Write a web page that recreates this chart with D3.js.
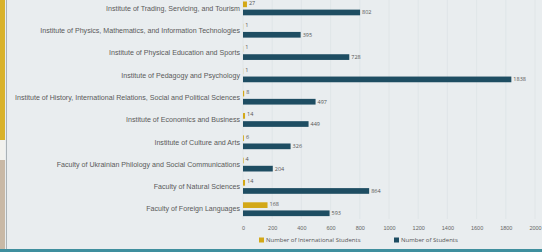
<!DOCTYPE html>
<html>
<head>
<meta charset="utf-8">
<script src="https://cdn.jsdelivr.net/npm/d3@7"></script>
<style>
  body { margin: 0; background: #e9edef; }
  svg { display: block; font-family: "Open Sans", sans-serif; }
</style>
</head>
<body>
<div id="chart"></div>
<script>
// data
var faculties = [
  "Institute of Trading, Servicing, and Tourism",
  "Institute of Physics, Mathematics, and Information Technologies",
  "Institute of Physical Education and Sports",
  "Institute of Pedagogy and Psychology",
  "Institute of History, International Relations, Social and Political Sciences",
  "Institute of Economics and Business",
  "Institute of Culture and Arts",
  "Faculty of Ukrainian Philology and Social Communications",
  "Faculty of Natural Sciences",
  "Faculty of Foreign Languages"
];
var international = [27, 1, 1, 1, 8, 14, 6, 4, 14, 168];
var students = [802, 395, 728, 1838, 497, 449, 326, 204, 864, 593];
var xTicks = [0, 200, 400, 600, 800, 1000, 1200, 1400, 1600, 1800, 2000];
var seriesNames = ["Number of International Students", "Number of Students"];
var colors = ["#d3a817", "#1e4d62"];

var width = 542, height = 252;
var margin = {top: 1, right: 5, bottom: 36, left: 243};

var svg = d3.select("#chart").append("svg")
    .attr("width", width)
    .attr("height", height);

// slide photo edges
svg.append("rect").attr("x", 0).attr("y", 0).attr("width", 5).attr("height", 140).attr("fill", "#d9b22a");
svg.append("rect").attr("x", 0).attr("y", 140).attr("width", 5).attr("height", 20).attr("fill", "#f2f2ee");
svg.append("rect").attr("x", 0).attr("y", 160).attr("width", 5).attr("height", 92).attr("fill", "#c9b9a6");
svg.append("rect").attr("x", 6).attr("y", 0).attr("width", 1).attr("height", 252).attr("fill", "#aab2b6");
svg.append("rect").attr("x", 0).attr("y", 249).attr("width", width).attr("height", 3).attr("fill", "#3f8f9e");

var x = d3.scaleLinear()
    .domain([0, 2000])
    .range([margin.left, margin.left + 292]);

var y = d3.scaleBand()
    .domain(faculties)
    .range([-1.2, 218.8])
    .paddingInner(0.38)
    .paddingOuter(0.12);

var ySub = d3.scaleBand()
    .domain([0, 1])
    .range([0, y.bandwidth()])
    .paddingInner(0.3);

// grid
svg.append("g").selectAll("line")
    .data(xTicks)
    .enter().append("line")
    .attr("x1", d => x(d)).attr("x2", d => x(d))
    .attr("y1", 0).attr("y2", 219)
    .attr("stroke", "#dde3e6")
    .attr("stroke-width", 0.8);

// x axis labels
var xAxis = d3.axisBottom(x).tickValues(xTicks).tickSize(0).tickPadding(0).tickFormat(d3.format("d"));
var gx = svg.append("g")
    .attr("transform", "translate(0,226)")
    .call(xAxis);
gx.select(".domain").remove();
gx.selectAll("text")
    .attr("fill", "#666")
    .style("font-size", "5.5px");

// category labels
var yAxis = d3.axisLeft(y).tickSize(0).tickPadding(3);
var gy = svg.append("g")
    .attr("transform", "translate(" + margin.left + ",0)")
    .call(yAxis);
gy.select(".domain").remove();
gy.selectAll("text")
    .attr("fill", "#5a5a5a")
    .style("font-size", "7.1px");

var rows = faculties.map((f, i) => ({name: f, values: [international[i], students[i]]}));

var groups = svg.append("g").selectAll("g")
    .data(rows)
    .enter().append("g")
    .attr("transform", d => "translate(0," + y(d.name) + ")");

groups.selectAll("rect")
    .data(d => d.values)
    .enter().append("rect")
    .attr("x", x(0))
    .attr("y", (d, i) => ySub(i))
    .attr("width", d => x(d) - x(0))
    .attr("height", ySub.bandwidth())
    .attr("fill", (d, i) => colors[i]);

groups.selectAll("text")
    .data(d => d.values)
    .enter().append("text")
    .attr("x", d => x(d) + 2)
    .attr("y", (d, i) => ySub(i) + ySub.bandwidth() / 2 + (i == 0 ? -1.5 : 0))
    .attr("dy", "0.35em")
    .attr("fill", "#555")
    .style("font-size", "5.5px")
    .text(d => d);

// legend
var legendX = [259, 394];
var legend = svg.append("g").selectAll("g")
    .data(seriesNames)
    .enter().append("g")
    .attr("transform", (d, i) => "translate(" + legendX[i] + ",240)");
legend.append("rect")
    .attr("x", 0).attr("y", -2.5)
    .attr("width", 5).attr("height", 5)
    .attr("fill", (d, i) => colors[i]);
legend.append("text")
    .attr("x", 7).attr("dy", "0.35em")
    .attr("fill", "#555")
    .style("font-size", "6px")
    .text(d => d);
</script>
</body>
</html>
